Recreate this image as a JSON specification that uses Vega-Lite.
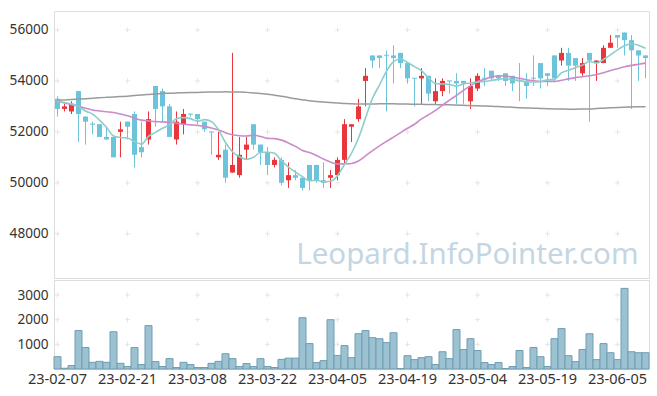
{
  "$schema": "https://vega.github.io/schema/vega-lite/v6.json",
  "padding": {"left": 8, "top": 10, "right": 9, "bottom": 0},
  "background": "white",
  "spacing": 0,
  "config": {
    "view": {"stroke": "#dddddd"},
    "font": "Noto Sans",
    "axis": {"labelFont": "Noto Sans", "labelFontSize": 13.6, "labelColor": "#333333", "ticks": false, "domain": false, "grid": false, "title": null}
  },
  "resolve": {"scale": {"x": "independent", "y": "independent"}},
  "datasets": {
    "k": [
      {"d":"23-02-07","o":53300,"h":53400,"l":52600,"c":52900,"v":500,"m5":53200,"m20":53200,"m60":53240},
      {"d":"23-02-08","o":52900,"h":53100,"l":52800,"c":53000,"v":30,"m5":53150,"m20":53130,"m60":53255},
      {"d":"23-02-09","o":52800,"h":53200,"l":52700,"c":53100,"v":140,"m5":53100,"m20":53070,"m60":53270},
      {"d":"23-02-10","o":53600,"h":53600,"l":51600,"c":52700,"v":1560,"m5":53000,"m20":53000,"m60":53285},
      {"d":"23-02-13","o":52600,"h":52600,"l":51500,"c":52400,"v":870,"m5":52820,"m20":52930,"m60":53300},
      {"d":"23-02-14","o":52300,"h":52400,"l":51900,"c":52300,"v":270,"m5":52700,"m20":52860,"m60":53320},
      {"d":"23-02-15","o":52300,"h":52300,"l":51800,"c":51800,"v":310,"m5":52460,"m20":52820,"m60":53340},
      {"d":"23-02-16","o":51800,"h":52200,"l":51700,"c":51700,"v":270,"m5":52180,"m20":52790,"m60":53355},
      {"d":"23-02-17","o":51800,"h":51800,"l":51000,"c":51000,"v":1510,"m5":51840,"m20":52760,"m60":53370},
      {"d":"23-02-20","o":52000,"h":52400,"l":51000,"c":52100,"v":230,"m5":51780,"m20":52700,"m60":53385},
      {"d":"23-02-21","o":52400,"h":52400,"l":51700,"c":52200,"v":100,"m5":51760,"m20":52630,"m60":53400},
      {"d":"23-02-22","o":52700,"h":52800,"l":50600,"c":51100,"v":870,"m5":51620,"m20":52540,"m60":53425},
      {"d":"23-02-23","o":51400,"h":52400,"l":51000,"c":51200,"v":180,"m5":51520,"m20":52460,"m60":53450},
      {"d":"23-02-24","o":51700,"h":52800,"l":51500,"c":52500,"v":1760,"m5":51820,"m20":52430,"m60":53470},
      {"d":"23-02-27","o":53800,"h":53800,"l":52200,"c":52900,"v":300,"m5":51980,"m20":52400,"m60":53490},
      {"d":"23-02-28","o":53600,"h":53700,"l":52400,"c":53000,"v":100,"m5":52140,"m20":52390,"m60":53505},
      {"d":"23-03-02","o":53000,"h":53100,"l":51800,"c":51800,"v":420,"m5":52280,"m20":52370,"m60":53520},
      {"d":"23-03-03","o":51700,"h":52800,"l":51500,"c":52400,"v":60,"m5":52520,"m20":52340,"m60":53530},
      {"d":"23-03-06","o":52300,"h":52900,"l":51900,"c":52700,"v":270,"m5":52560,"m20":52300,"m60":53540},
      {"d":"23-03-07","o":52700,"h":52700,"l":52600,"c":52700,"v":180,"m5":52520,"m20":52275,"m60":53545},
      {"d":"23-03-08","o":52700,"h":52700,"l":52300,"c":52500,"v":60,"m5":52420,"m20":52255,"m60":53550},
      {"d":"23-03-09","o":52400,"h":52400,"l":52000,"c":52100,"v":60,"m5":52480,"m20":52210,"m60":53558},
      {"d":"23-03-10","o":52000,"h":52000,"l":51100,"c":52000,"v":230,"m5":52400,"m20":52155,"m60":53565},
      {"d":"23-03-13","o":51000,"h":52000,"l":50900,"c":51100,"v":310,"m5":52080,"m20":52075,"m60":53568},
      {"d":"23-03-14","o":51300,"h":51500,"l":50000,"c":50200,"v":620,"m5":51580,"m20":51965,"m60":53570},
      {"d":"23-03-15","o":50400,"h":55100,"l":50400,"c":50700,"v":420,"m5":51220,"m20":51885,"m60":53568},
      {"d":"23-03-16","o":50300,"h":51800,"l":50200,"c":51100,"v":100,"m5":51020,"m20":51850,"m60":53565},
      {"d":"23-03-17","o":51300,"h":51800,"l":50900,"c":51500,"v":220,"m5":50920,"m20":51840,"m60":53550},
      {"d":"23-03-20","o":52300,"h":52300,"l":51300,"c":51500,"v":100,"m5":51000,"m20":51865,"m60":53530},
      {"d":"23-03-21","o":51500,"h":51500,"l":50700,"c":51200,"v":420,"m5":51200,"m20":51820,"m60":53505},
      {"d":"23-03-22","o":51200,"h":51400,"l":50300,"c":50700,"v":100,"m5":51200,"m20":51745,"m60":53480},
      {"d":"23-03-23","o":50700,"h":51000,"l":50600,"c":50900,"v":60,"m5":51160,"m20":51735,"m60":53440},
      {"d":"23-03-24","o":50900,"h":51000,"l":49900,"c":50000,"v":390,"m5":50860,"m20":51675,"m60":53400},
      {"d":"23-03-27","o":50100,"h":50800,"l":49800,"c":50300,"v":440,"m5":50620,"m20":51565,"m60":53350},
      {"d":"23-03-28","o":50300,"h":50500,"l":50100,"c":50200,"v":440,"m5":50420,"m20":51430,"m60":53300},
      {"d":"23-03-29","o":50200,"h":50200,"l":49700,"c":49800,"v":2080,"m5":50240,"m20":51270,"m60":53260},
      {"d":"23-03-30","o":50700,"h":50700,"l":49700,"c":50100,"v":1030,"m5":50080,"m20":51185,"m60":53220},
      {"d":"23-03-31","o":50700,"h":50700,"l":50000,"c":50100,"v":260,"m5":50100,"m20":51070,"m60":53195},
      {"d":"23-04-03","o":50100,"h":50800,"l":49800,"c":50000,"v":340,"m5":50040,"m20":50935,"m60":53170},
      {"d":"23-04-04","o":50200,"h":50500,"l":49800,"c":50300,"v":2000,"m5":50060,"m20":50815,"m60":53150},
      {"d":"23-04-05","o":50300,"h":51000,"l":50100,"c":50900,"v":550,"m5":50280,"m20":50735,"m60":53130},
      {"d":"23-04-06","o":50900,"h":52500,"l":50700,"c":52300,"v":950,"m5":50720,"m20":50745,"m60":53115},
      {"d":"23-04-07","o":52200,"h":52300,"l":51600,"c":52300,"v":460,"m5":51160,"m20":50760,"m60":53100},
      {"d":"23-04-10","o":52500,"h":53300,"l":52400,"c":53000,"v":1430,"m5":51760,"m20":50855,"m60":53095},
      {"d":"23-04-11","o":54000,"h":54500,"l":53000,"c":54200,"v":1560,"m5":52540,"m20":51055,"m60":53090},
      {"d":"23-04-12","o":55000,"h":55000,"l":54500,"c":54800,"v":1270,"m5":53320,"m20":51260,"m60":53095},
      {"d":"23-04-13","o":55000,"h":55000,"l":54500,"c":54900,"v":1230,"m5":53840,"m20":51450,"m60":53100},
      {"d":"23-04-14","o":55000,"h":55200,"l":52800,"c":55000,"v":1070,"m5":54380,"m20":51625,"m60":53100},
      {"d":"23-04-17","o":55000,"h":55400,"l":53900,"c":54900,"v":1470,"m5":54760,"m20":51795,"m60":53100},
      {"d":"23-04-18","o":55100,"h":55100,"l":54500,"c":54700,"v":20,"m5":54860,"m20":51970,"m60":53095},
      {"d":"23-04-19","o":54700,"h":54700,"l":53900,"c":54100,"v":540,"m5":54720,"m20":52140,"m60":53090},
      {"d":"23-04-20","o":54100,"h":54100,"l":53000,"c":54100,"v":380,"m5":54560,"m20":52300,"m60":53085},
      {"d":"23-04-21","o":54100,"h":54500,"l":53100,"c":54200,"v":460,"m5":54400,"m20":52510,"m60":53080},
      {"d":"23-04-24","o":54200,"h":54200,"l":53200,"c":53500,"v":500,"m5":54120,"m20":52670,"m60":53075},
      {"d":"23-04-25","o":53200,"h":54100,"l":53100,"c":53600,"v":180,"m5":53900,"m20":52840,"m60":53070},
      {"d":"23-04-26","o":53600,"h":54100,"l":53400,"c":54000,"v":700,"m5":53880,"m20":53050,"m60":53065},
      {"d":"23-04-27","o":54000,"h":54000,"l":53500,"c":54000,"v":420,"m5":53860,"m20":53245,"m60":53060},
      {"d":"23-04-28","o":54000,"h":54300,"l":53100,"c":53900,"v":1600,"m5":53800,"m20":53435,"m60":53050},
      {"d":"23-05-02","o":54000,"h":54000,"l":53100,"c":53900,"v":790,"m5":53880,"m20":53630,"m60":53040},
      {"d":"23-05-03","o":53200,"h":54100,"l":52900,"c":53800,"v":1230,"m5":53920,"m20":53805,"m60":53032},
      {"d":"23-05-04","o":53700,"h":54300,"l":53600,"c":54200,"v":750,"m5":53960,"m20":53970,"m60":53025},
      {"d":"23-05-08","o":54100,"h":54500,"l":53800,"c":54100,"v":260,"m5":53980,"m20":54060,"m60":53015},
      {"d":"23-05-09","o":54400,"h":54400,"l":54000,"c":54100,"v":180,"m5":54020,"m20":54150,"m60":53005},
      {"d":"23-05-10","o":54200,"h":54200,"l":54000,"c":54100,"v":260,"m5":54060,"m20":54205,"m60":52992},
      {"d":"23-05-11","o":54300,"h":54300,"l":53800,"c":54000,"v":20,"m5":54100,"m20":54195,"m60":52980},
      {"d":"23-05-12","o":54200,"h":54200,"l":53600,"c":53900,"v":100,"m5":54040,"m20":54150,"m60":52965},
      {"d":"23-05-15","o":54000,"h":54700,"l":53200,"c":54000,"v":750,"m5":54020,"m20":54105,"m60":52950},
      {"d":"23-05-16","o":54000,"h":54300,"l":53300,"c":53800,"v":60,"m5":53960,"m20":54045,"m60":52940},
      {"d":"23-05-17","o":54100,"h":55000,"l":53800,"c":54100,"v":870,"m5":53960,"m20":54005,"m60":52930},
      {"d":"23-05-18","o":54700,"h":54700,"l":53700,"c":54100,"v":500,"m5":53980,"m20":53975,"m60":52920},
      {"d":"23-05-19","o":54300,"h":54300,"l":53800,"c":54200,"v":100,"m5":54040,"m20":53980,"m60":52910},
      {"d":"23-05-22","o":55000,"h":55000,"l":54000,"c":54100,"v":1230,"m5":54060,"m20":53980,"m60":52902},
      {"d":"23-05-23","o":54800,"h":55300,"l":54600,"c":55100,"v":1640,"m5":54320,"m20":54025,"m60":52895},
      {"d":"23-05-24","o":55100,"h":55300,"l":54000,"c":54600,"v":540,"m5":54420,"m20":54080,"m60":52892},
      {"d":"23-05-25","o":54900,"h":54900,"l":54000,"c":54600,"v":300,"m5":54520,"m20":54130,"m60":52890},
      {"d":"23-05-26","o":54300,"h":54900,"l":54200,"c":54700,"v":790,"m5":54620,"m20":54165,"m60":52895},
      {"d":"23-05-30","o":55100,"h":55100,"l":52400,"c":54800,"v":1430,"m5":54760,"m20":54205,"m60":52900},
      {"d":"23-05-31","o":54700,"h":54800,"l":54000,"c":54800,"v":380,"m5":54700,"m20":54250,"m60":52915},
      {"d":"23-06-01","o":54700,"h":55400,"l":54700,"c":55300,"v":1030,"m5":54840,"m20":54320,"m60":52930},
      {"d":"23-06-02","o":55300,"h":55800,"l":55300,"c":55500,"v":660,"m5":55020,"m20":54405,"m60":52945},
      {"d":"23-06-05","o":55800,"h":55800,"l":55300,"c":55700,"v":380,"m5":55220,"m20":54480,"m60":52960},
      {"d":"23-06-07","o":55900,"h":55900,"l":55000,"c":55600,"v":3270,"m5":55380,"m20":54555,"m60":52970},
      {"d":"23-06-08","o":55600,"h":55800,"l":52900,"c":55200,"v":700,"m5":55460,"m20":54610,"m60":52980},
      {"d":"23-06-09","o":55200,"h":55200,"l":54000,"c":55000,"v":660,"m5":55400,"m20":54655,"m60":52985},
      {"d":"23-06-12","o":55000,"h":55000,"l":54100,"c":54900,"v":660,"m5":55280,"m20":54700,"m60":52990}
    ],
    "gm": [
      {"d":"23-02-07","p":[48000,50000,52000,54000,56000]},
      {"d":"23-02-21","p":[48000,50000,52000,54000,56000]},
      {"d":"23-03-08","p":[48000,50000,52000,54000,56000]},
      {"d":"23-03-22","p":[48000,50000,52000,54000,56000]},
      {"d":"23-04-05","p":[48000,50000,52000,54000,56000]},
      {"d":"23-04-19","p":[48000,50000,52000,54000,56000]},
      {"d":"23-05-04","p":[48000,50000,52000,54000,56000]},
      {"d":"23-05-19","p":[48000,50000,52000,54000,56000]},
      {"d":"23-06-05","p":[48000,50000,52000,54000,56000]}
    ],
    "gv": [
      {"d":"23-02-07","p":[1000,2000,3000]},
      {"d":"23-02-21","p":[1000,2000,3000]},
      {"d":"23-03-08","p":[1000,2000,3000]},
      {"d":"23-03-22","p":[1000,2000,3000]},
      {"d":"23-04-05","p":[1000,2000,3000]},
      {"d":"23-04-19","p":[1000,2000,3000]},
      {"d":"23-05-04","p":[1000,2000,3000]},
      {"d":"23-05-19","p":[1000,2000,3000]},
      {"d":"23-06-05","p":[1000,2000,3000]}
    ],
    "wm": [{"d":"23-06-09","p":46822,"t":"Leopard.InfoPointer.com"}]
  },
  "vconcat": [
    {
      "width": 595,
      "height": 267,
      "encoding": {
        "x": {"field": "d", "type": "ordinal", "scale": {"type": "band", "paddingInner": 0, "paddingOuter": 0}, "axis": null}
      },
      "layer": [
        {
          "data": {"name": "gm"},
          "transform": [{"flatten": ["p"]}],
          "mark": {"type": "point", "shape": "M-1,0L1,0M0,-1L0,1", "size": 25, "filled": false, "stroke": "#dcdcdc", "strokeWidth": 1},
          "encoding": {
            "y": {"field": "p", "type": "quantitative", "scale": {"domain": [46262, 56745], "nice": false, "zero": false}, "axis": {"values": [48000, 50000, 52000, 54000, 56000], "format": "d", "labelPadding": 6}}
          }
        },
        {
          "data": {"name": "wm"},
          "mark": {"type": "text", "align": "right", "baseline": "alphabetic", "font": "Noto Sans", "fontSize": 29.5, "color": "#c4d6e3"},
          "encoding": {
            "y": {"field": "p", "type": "quantitative", "scale": {"domain": [46262, 56745], "nice": false, "zero": false}, "axis": {"values": [48000, 50000, 52000, 54000, 56000], "format": "d", "labelPadding": 6}},
            "text": {"field": "t"}
          }
        },
        {
          "data": {"name": "k"},
          "mark": {"type": "rule", "strokeWidth": 1},
          "encoding": {
            "y": {"field": "l", "type": "quantitative", "scale": {"domain": [46262, 56745], "nice": false, "zero": false}, "axis": {"values": [48000, 50000, 52000, 54000, 56000], "format": "d", "labelPadding": 6}},
            "y2": {"field": "h"},
            "color": {"condition": {"test": "datum.c > datum.o", "value": "#e8363c"}, "value": "#6cc3da"}
          }
        },
        {
          "data": {"name": "k"},
          "mark": {"type": "bar", "width": {"band": 0.72}},
          "encoding": {
            "y": {"field": "o", "type": "quantitative", "scale": {"domain": [46262, 56745], "nice": false, "zero": false}, "axis": {"values": [48000, 50000, 52000, 54000, 56000], "format": "d", "labelPadding": 6}},
            "y2": {"field": "c"},
            "color": {"condition": {"test": "datum.c > datum.o", "value": "#e8363c"}, "value": "#6cc3da"}
          }
        },
        {
          "data": {"name": "k"},
          "transform": [{"filter": "datum.o == datum.c"}],
          "mark": {"type": "tick", "thickness": 1.5, "size": 5, "color": "#6cc3da"},
          "encoding": {
            "y": {"field": "c", "type": "quantitative", "scale": {"domain": [46262, 56745], "nice": false, "zero": false}, "axis": {"values": [48000, 50000, 52000, 54000, 56000], "format": "d", "labelPadding": 6}}
          }
        },
        {
          "data": {"name": "k"},
          "mark": {"type": "line", "interpolate": "monotone", "strokeWidth": 1.5, "color": "#9a9a9a"},
          "encoding": {
            "y": {"field": "m60", "type": "quantitative", "scale": {"domain": [46262, 56745], "nice": false, "zero": false}, "axis": {"values": [48000, 50000, 52000, 54000, 56000], "format": "d", "labelPadding": 6}}
          }
        },
        {
          "data": {"name": "k"},
          "mark": {"type": "line", "interpolate": "monotone", "strokeWidth": 1.6, "color": "#cc8acb"},
          "encoding": {
            "y": {"field": "m20", "type": "quantitative", "scale": {"domain": [46262, 56745], "nice": false, "zero": false}, "axis": {"values": [48000, 50000, 52000, 54000, 56000], "format": "d", "labelPadding": 6}}
          }
        },
        {
          "data": {"name": "k"},
          "mark": {"type": "line", "interpolate": "monotone", "strokeWidth": 1.6, "color": "#8acfcb"},
          "encoding": {
            "y": {"field": "m5", "type": "quantitative", "scale": {"domain": [46262, 56745], "nice": false, "zero": false}, "axis": {"values": [48000, 50000, 52000, 54000, 56000], "format": "d", "labelPadding": 6}}
          }
        }
      ]
    },
    {
      "width": 595,
      "height": 89,
      "encoding": {
        "x": {"field": "d", "type": "ordinal", "scale": {"type": "band", "paddingInner": 0, "paddingOuter": 0},
              "axis": {"values": ["23-02-07","23-02-21","23-03-08","23-03-22","23-04-05","23-04-19","23-05-04","23-05-19","23-06-05"], "labelAngle": 0, "labelPadding": 3, "labelFontSize": 14.5}}
      },
      "layer": [
        {
          "data": {"name": "gv"},
          "transform": [{"flatten": ["p"]}],
          "mark": {"type": "point", "shape": "M-1,0L1,0M0,-1L0,1", "size": 25, "filled": false, "stroke": "#dcdcdc", "strokeWidth": 1},
          "encoding": {
            "y": {"field": "p", "type": "quantitative", "scale": {"domain": [0, 3610], "nice": false}, "axis": {"values": [1000, 2000, 3000], "format": "d", "labelPadding": 6}}
          }
        },
        {
          "data": {"name": "k"},
          "mark": {"type": "bar", "fill": "#9cc2d2", "stroke": "#6e9db3", "strokeWidth": 1},
          "encoding": {
            "y": {"field": "v", "type": "quantitative", "scale": {"domain": [0, 3610], "nice": false}, "axis": {"values": [1000, 2000, 3000], "format": "d", "labelPadding": 6}}
          }
        }
      ]
    }
  ]
}
